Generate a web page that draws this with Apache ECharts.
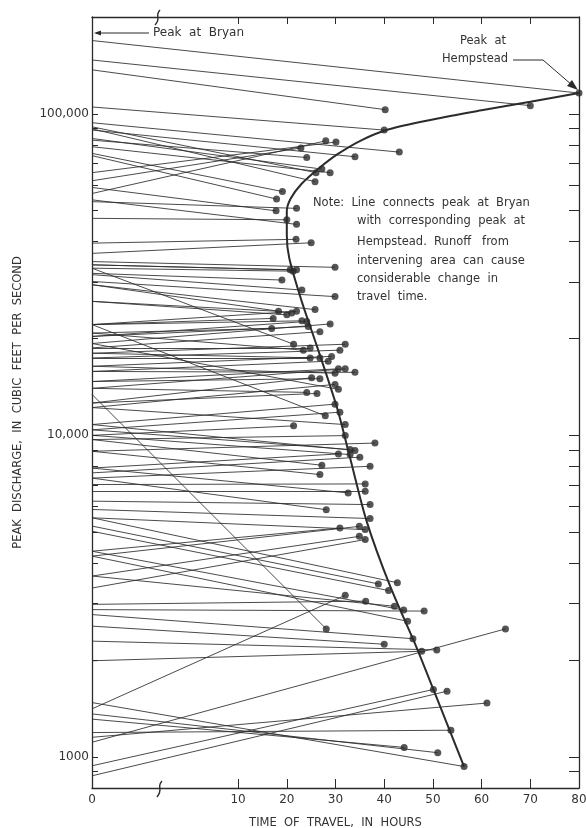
<!DOCTYPE html>
<html>
<head>
<meta charset="utf-8">
<script src="https://cdn.jsdelivr.net/npm/echarts@6/dist/echarts.min.js"></script>
<style>
  html, body { margin: 0; padding: 0; background: #fff; }
  #chart { width: 586px; height: 828px; }
</style>
</head>
<body>
<div id="chart"></div>
<script>
// peak at Bryan (cfs) -> travel time (hours) -> peak at Hempstead (cfs)
const bryanPeak = [169000, 147000, 137000, 105000, 93800, 91100, 89800, 89000, 83800, 82800,
  79000, 75300, 74100, 65600, 61900, 59000, 56500, 53300, 47300, 54000,
  39600, 36800, 34700, 33900, 33100, 33900, 31900, 31600, 30100, 29400,
  26100, 26100, 29400, 22100, 22100, 20800, 22100, 20300, 19300, 18700,
  20300, 33100, 18000, 17400, 18700, 20800, 16400, 15800, 18000, 17400,
  14700, 14000, 15800, 16400, 12600, 14700, 12200, 19300, 14000, 12600,
  10800, 10400, 22100, 10000, 12200, 9700, 8920, 10400, 10800, 7910,
  10000, 7640, 9700, 7360, 8920, 7030, 6700, 7910, 6240, 7360,
  5880, 4360, 4210, 5540, 3650, 3350, 5220, 5030, 5540, 1410,
  2980, 3650, 4360, 2870, 4210, 13400, 2770, 2550, 1990, 2290,
  1110, 938, 873, 1150, 1190, 1310, 1360, 1475];
const travelHours = [80, 70, 40.2, 40.0, 43.1, 26.0, 25.8, 34.0, 27.2, 24.1,
  28.9, 19.1, 17.9, 30.1, 22.9, 17.8, 28.0, 22.0, 20.0, 22.0,
  21.9, 25.0, 29.9, 20.7, 21.3, 22.0, 19.0, 23.1, 29.9, 25.8,
  18.3, 20.0, 21.0, 22.0, 17.2, 16.9, 23.1, 24.1, 28.9, 26.8,
  24.4, 21.4, 32.0, 30.9, 24.8, 23.4, 29.2, 28.5, 26.8, 24.8,
  30.6, 32.0, 34.0, 29.9, 25.1, 26.8, 29.9, 30.6, 24.1, 26.2,
  29.9, 30.9, 27.9, 21.4, 32.0, 32.0, 38.1, 33.0, 34.0, 30.6,
  33.0, 35.0, 27.2, 37.1, 26.8, 36.1, 36.1, 32.6, 37.1, 28.1,
  37.1, 30.9, 34.9, 36.1, 34.9, 36.1, 38.8, 40.9, 42.7, 32.0,
  36.2, 42.1, 44.0, 48.2, 44.8, 28.1, 45.9, 40.0, 47.7, 50.8,
  64.9, 50.1, 52.9, 61.1, 53.7, 44.1, 51.0, 56.4];
const hempsteadPeak = [116000, 106000, 103000, 89000, 76000, 65600, 61500, 73500, 67300, 73100,
  65600, 57300, 54300, 81700, 78300, 49900, 82400, 50800, 46800, 45300,
  40700, 39700, 33300, 32700, 32400, 32700, 30400, 28300, 27000, 24600,
  24300, 23700, 24000, 24300, 23100, 21500, 22700, 22600, 22200, 21000,
  21800, 19200, 19200, 18400, 18700, 18400, 17600, 17000, 17400, 17400,
  16100, 16100, 15700, 15600, 15100, 15000, 14400, 13900, 13600, 13500,
  12500, 11800, 11500, 10700, 10800, 9980, 9460, 9030, 8970, 8750,
  8710, 8550, 8070, 8010, 7550, 7060, 6700, 6620, 6090, 5870,
  5510, 5150, 5210, 5090, 4850, 4740, 3450, 3290, 3480, 3180,
  3050, 2940, 2860, 2840, 2640, 2500, 2330, 2240, 2130, 2150,
  2500, 1620, 1600, 1470, 1210, 1070, 1030, 933];

// envelope curve
const curveHours = [80, 70, 60, 50, 41.0, 35.5, 30.5, 26.5, 23.0, 20.8, 20.0, 20.0, 20.5,
  23.1, 26.2, 30.3, 33.0, 36.4, 41.2, 46.7, 50.1, 56.4];
const curveFlow = [116000, 109000, 102500, 96000, 89500, 83000, 75000, 67500, 60500, 54500, 49700, 42000, 35600,
  26000, 18900, 12200, 8500, 5400, 3400, 2180, 1620, 933];

const timeLabels = [0, 10, 20, 30, 40, 50, 60, 70, 80];
const timeTicks = [10, 20, 30, 40, 50, 60, 70];
const flowLabels = [1000, 10000, 100000];
const flowTicks = [900, 1000, 2000, 3000, 4000, 5000, 6000, 7000, 8000, 9000,
  10000, 20000, 30000, 40000, 50000, 60000, 70000, 80000, 90000,
  100000, 200000];

// the axis is broken between 0 and 10 hours: hour 0 sits at axis value -20
const ZERO_AT = -20;
const axisTime = t => (t === 0 ? ZERO_AT : t);

const ink = '#2b2b2b';
const font = '"DejaVu Sans", sans-serif';

const chart = echarts.init(document.getElementById('chart'), null, { renderer: 'canvas' });

const timeAxis = (extra) => Object.assign({
  type: 'value',
  min: ZERO_AT,
  max: 80,
  interval: 10,
  splitLine: { show: false },
  axisLine: { show: true, onZero: false, lineStyle: { color: ink, width: 1.3 } },
  axisTick: { show: true, inside: true, length: 9, customValues: timeTicks, lineStyle: { color: ink, width: 1 } }
}, extra);

const flowAxis = (extra) => Object.assign({
  type: 'log',
  logBase: 10,
  min: 800,
  max: 200000,
  splitLine: { show: false },
  axisLine: { show: true, onZero: false, lineStyle: { color: ink, width: 1.3 } },
  axisTick: { show: true, inside: true, length: 8, customValues: flowTicks, lineStyle: { color: ink, width: 1 } }
}, extra);

chart.setOption({
  animation: false,
  backgroundColor: '#fff',
  grid: { left: 92, right: 7, top: 17, bottom: 40, containLabel: false, outerBoundsMode: 'none' },
  xAxis: [
    timeAxis({
      position: 'bottom',
      axisLabel: {
        customValues: timeLabels.map(axisTime),
        formatter: v => (v === ZERO_AT ? '0' : String(v)),
        color: '#333', fontFamily: font, fontSize: 12, margin: 6
      },
      name: 'TIME  OF  TRAVEL,  IN  HOURS',
      nameLocation: 'middle',
      nameGap: 29,
      nameTextStyle: { color: '#333', fontFamily: font, fontSize: 11.5 }
    }),
    timeAxis({
      position: 'top',
      axisTick: { show: true, inside: true, length: 7, customValues: timeTicks, lineStyle: { color: ink, width: 1 } },
      axisLabel: { show: false }
    })
  ],
  yAxis: [
    flowAxis({
      position: 'left',
      axisTick: { show: true, inside: true, length: 6, customValues: flowTicks, lineStyle: { color: ink, width: 1 } },
      axisLabel: {
        customValues: flowLabels,
        formatter: v => (v < 10000 ? String(v) : v.toLocaleString('en-US')),
        color: '#333', fontFamily: font, fontSize: 12, margin: 3
      },
      name: 'PEAK  DISCHARGE,  IN  CUBIC  FEET  PER  SECOND',
      nameLocation: 'middle',
      nameGap: 68,
      nameTextStyle: { color: '#333', fontFamily: font, fontSize: 11.5 }
    }),
    flowAxis({
      position: 'right',
      axisTick: { show: true, inside: true, length: 10, customValues: flowTicks, lineStyle: { color: ink, width: 1 } },
      axisLabel: { show: false }
    })
  ],
  series: [
    {
      type: 'lines',
      coordinateSystem: 'cartesian2d',
      xAxisIndex: 0,
      yAxisIndex: 0,
      silent: true,
      lineStyle: { color: ink, width: 0.9, opacity: 0.95 },
      data: bryanPeak.map((q, i) => ({
        coords: [[axisTime(0), q], [travelHours[i], hempsteadPeak[i]]]
      }))
    },
    {
      type: 'line',
      xAxisIndex: 0,
      yAxisIndex: 0,
      smooth: 0.3,
      symbol: 'none',
      silent: true,
      lineStyle: { color: ink, width: 2 },
      data: curveHours.map((t, i) => [t, curveFlow[i]])
    },
    {
      type: 'scatter',
      xAxisIndex: 0,
      yAxisIndex: 0,
      symbol: 'circle',
      symbolSize: 7,
      silent: true,
      itemStyle: { color: ink },
      data: travelHours.map((t, i) => [t, hempsteadPeak[i]])
    }
  ],
  graphic: [
    // axis break marks
    { type: 'bezierCurve', shape: { x1: 160, y1: 10, cpx1: 154, cpy1: 16, cpx2: 162, cpy2: 18, x2: 155, y2: 25 },
      style: { stroke: ink, lineWidth: 1.4, fill: null } },
    { type: 'bezierCurve', shape: { x1: 162, y1: 781, cpx1: 156, cpy1: 787, cpx2: 164, cpy2: 789, x2: 157, y2: 797 },
      style: { stroke: ink, lineWidth: 1.4, fill: null } },
    // Peak at Bryan leader
    { type: 'line', shape: { x1: 96, y1: 33, x2: 149, y2: 33 }, style: { stroke: ink, lineWidth: 1 } },
    { type: 'polygon', shape: { points: [[94, 33], [101, 30.5], [101, 35.5]] }, style: { fill: ink } },
    { type: 'text', style: { text: 'Peak  at  Bryan', x: 153, y: 33, font: '12px ' + font, fill: '#333', textVerticalAlign: 'middle' } },
    // Peak at Hempstead leader
    { type: 'text', style: { text: 'Peak  at', x: 483, y: 41, font: '11.5px ' + font, fill: '#333', textAlign: 'center', textVerticalAlign: 'middle' } },
    { type: 'text', style: { text: 'Hempstead', x: 475, y: 59, font: '11.5px ' + font, fill: '#333', textAlign: 'center', textVerticalAlign: 'middle' } },
    { type: 'polyline', shape: { points: [[513, 60], [543, 60], [572, 85]] }, style: { stroke: ink, lineWidth: 1, fill: null } },
    { type: 'polygon', shape: { points: [[578, 90], [567, 86], [572, 80]] }, style: { fill: ink } },
    // note
    { type: 'text', style: { text: 'Note:  Line  connects  peak  at  Bryan', x: 313, y: 203, font: '11.5px ' + font, fill: '#333', textVerticalAlign: 'middle' } },
    { type: 'text', style: { text: 'with  corresponding  peak  at', x: 357, y: 221, font: '11.5px ' + font, fill: '#333', textVerticalAlign: 'middle' } },
    { type: 'text', style: { text: 'Hempstead.  Runoff   from', x: 357, y: 242, font: '11.5px ' + font, fill: '#333', textVerticalAlign: 'middle' } },
    { type: 'text', style: { text: 'intervening  area  can  cause', x: 357, y: 261, font: '11.5px ' + font, fill: '#333', textVerticalAlign: 'middle' } },
    { type: 'text', style: { text: 'considerable  change  in', x: 357, y: 279, font: '11.5px ' + font, fill: '#333', textVerticalAlign: 'middle' } },
    { type: 'text', style: { text: 'travel  time.', x: 357, y: 297, font: '11.5px ' + font, fill: '#333', textVerticalAlign: 'middle' } }
  ]
});
</script>
</body>
</html>
